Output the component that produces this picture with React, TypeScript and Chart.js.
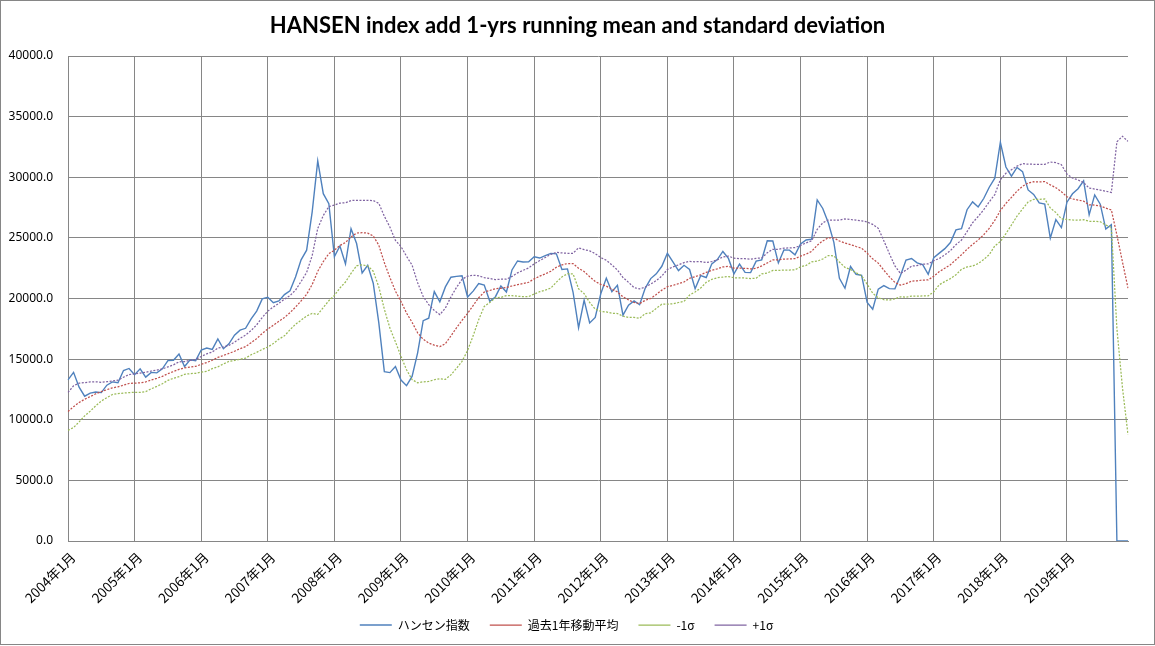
import React, { useEffect, useRef } from 'react';
import { Chart, registerables } from 'chart.js';

Chart.register(...registerables);

const years = [2004, 2005, 2006, 2007, 2008, 2009, 2010, 2011, 2012, 2013, 2014, 2015, 2016, 2017, 2018, 2019];
const months = [1, 2, 3, 4, 5, 6, 7, 8, 9, 10, 11, 12];
const categories = years.flatMap((y) => months.map((m) => `${y}年${m}月`));

const seriesNames = ['ハンセン指数', '過去1年移動平均', '-1σ', '+1σ'];

const hangSeng = [
  13289, 13908, 12682, 11942, 12198, 12286, 12239, 12851, 13120, 13054, 14060, 14230,
  13721, 14196, 13517, 13909, 13868, 14201, 14880, 14903, 15429, 14386, 14937, 14876,
  15753, 15918, 15805, 16661, 15857, 16267, 16971, 17392, 17543, 18324, 18960, 19965,
  20107, 19652, 19801, 20319, 20635, 21773, 23185, 23984, 27143, 31352, 28643, 27812,
  23456, 24332, 22849, 25755, 24533, 22102, 22731, 21261, 18016, 13969, 13888, 14387,
  13278, 12812, 13576, 15521, 18171, 18379, 20573, 19724, 20955, 21753, 21822, 21873,
  20122, 20609, 21239, 21108, 19765, 20129, 21030, 20537, 22358, 23096, 23008, 23035,
  23447, 23338, 23528, 23720, 23684, 22398, 22440, 20535, 17592, 19864, 17989, 18434,
  20390, 21680, 20556, 21094, 18630, 19441, 19796, 19483, 20840, 21642, 22030, 22657,
  23730, 23020, 22300, 22737, 22392, 20803, 21883, 21731, 22860, 23206, 23881, 23306,
  22035, 22837, 22151, 22134, 23082, 23191, 24757, 24742, 22933, 23998, 23987, 23605,
  24507, 24823, 24901, 28133, 27424, 26250, 24636, 21671, 20846, 22640, 21996, 21914,
  19683, 19112, 20777, 21067, 20815, 20794, 21891, 23177, 23297, 22935, 22790, 22001,
  23361, 23741, 24112, 24615, 25661, 25765, 27324, 27970, 27554, 28246, 29177, 29919,
  32887, 30845, 30093, 30808, 30469, 28955, 28583, 27889, 27789, 24980, 26507, 25846,
  27942, 28633, 29051, 29699, 26901, 28543, 27778, 25725, 26092, 0, 0, 0,
];

const runningMean = [
  10680, 11080, 11420, 11690, 11910, 12140, 12320, 12480, 12630, 12710, 12850, 12990,
  13020, 13050, 13120, 13280, 13420, 13580, 13800, 13970, 14160, 14280, 14350, 14400,
  14570, 14720, 14910, 15140, 15300, 15470, 15650, 15860, 16030, 16360, 16690, 17120,
  17480, 17790, 18120, 18430, 18830, 19290, 19800, 20350, 21150, 22240, 23040, 23700,
  23980, 24370, 24620, 25080, 25400, 25430, 25390, 25160, 24400, 22960, 21730, 20610,
  19760, 18800, 18030, 17170, 16640, 16330, 16150, 16030, 16270, 16920, 17580, 18200,
  18770, 19420, 20060, 20530, 20660, 20810, 20840, 20910, 21030, 21140, 21240, 21340,
  21620, 21840, 22030, 22250, 22580, 22770, 22880, 22880, 22490, 22220, 21800, 21410,
  21160, 21020, 20770, 20550, 20130, 19890, 19670, 19580, 19850, 20000, 20330, 20690,
  20970, 21080, 21220, 21360, 21670, 21790, 21960, 22150, 22320, 22450, 22600, 22650,
  22510, 22500, 22490, 22440, 22490, 22690, 22930, 23180, 23190, 23250, 23260, 23290,
  23490, 23660, 23890, 24390, 24750, 25010, 25000, 24740, 24570, 24450, 24290, 24150,
  23740, 23270, 22920, 22340, 21790, 21330, 21100, 21230, 21430, 21460, 21520, 21530,
  21840, 22220, 22500, 22790, 23200, 23610, 24060, 24460, 24820, 25260, 25790, 26450,
  27250, 27840, 28340, 28850, 29250, 29520, 29630, 29620, 29640, 29370, 29140, 28810,
  28390, 28210, 28120, 28030, 27730, 27700, 27630, 27450, 27310, 25230, 23020, 20860,
];

const minusSigma = [
  9120, 9360, 9820, 10320, 10710, 11150, 11540, 11820, 12080, 12160, 12200, 12240,
  12260, 12250, 12320, 12550, 12750, 12970, 13250, 13420, 13550, 13750, 13800, 13830,
  13930, 13990, 14220, 14360, 14600, 14810, 14890, 15000, 15080, 15360, 15560, 15800,
  16000, 16280, 16650, 16920, 17420, 17880, 18210, 18560, 18770, 18690, 19250, 19820,
  20250, 20870, 21360, 22070, 22700, 22770, 22690, 22250, 20960, 19120, 17560, 16430,
  15230, 14120, 13310, 13050, 13130, 13160, 13300, 13380, 13330, 13700, 14240, 14820,
  15710, 16920, 18250, 19340, 19670, 20060, 20090, 20240, 20240, 20180, 20160, 20160,
  20370, 20560, 20690, 20860, 21350, 21780, 22040, 22040, 20800, 20400, 19670, 19130,
  18940, 18890, 18780, 18760, 18540, 18440, 18440, 18370, 18760, 18810, 19190, 19530,
  19540, 19560, 19670, 19760, 20280, 20540, 20860, 21330, 21580, 21710, 21770, 21810,
  21710, 21700, 21690, 21640, 21670, 22030, 22100, 22310, 22310, 22350, 22350, 22370,
  22610, 22730, 23020, 23080, 23260, 23540, 23520, 23010, 22570, 22390, 22120, 21880,
  21180, 20430, 20060, 19900, 19870, 19980, 20140, 20110, 20190, 20190, 20210, 20210,
  20550, 21140, 21400, 21640, 21960, 22410, 22600, 22680, 22880, 23210, 23620, 24340,
  24690, 25350, 26060, 26790, 27390, 27960, 28180, 28170, 28210, 27470, 27090, 26570,
  26520, 26480, 26460, 26500, 26370, 26370, 26330, 26050, 25860, 17520, 12650, 8770,
];

const plusSigma = [
  12250, 12800, 13020, 13060, 13120, 13130, 13090, 13140, 13190, 13260, 13510, 13730,
  13790, 13850, 13920, 14020, 14100, 14190, 14360, 14530, 14780, 14800, 14900, 14970,
  15220, 15440, 15590, 15910, 16000, 16140, 16400, 16710, 16980, 17360, 17830, 18430,
  18960, 19300, 19600, 19940, 20240, 20690, 21400, 22150, 23540, 25780, 26840, 27580,
  27710, 27870, 27890, 28080, 28100, 28090, 28090, 28080, 27850, 26790, 25890, 24790,
  24290, 23480, 22750, 21300, 20160, 19500, 19010, 18670, 19210, 20130, 20910, 21580,
  21840, 21920, 21870, 21720, 21650, 21560, 21590, 21590, 21820, 22110, 22320, 22520,
  22860, 23130, 23380, 23640, 23810, 23760, 23730, 23730, 24180, 24030, 23930, 23700,
  23380, 23150, 22770, 22350, 21730, 21330, 20900, 20790, 20940, 21190, 21480, 21850,
  22390, 22600, 22770, 22960, 23060, 23030, 23050, 22970, 23050, 23190, 23430, 23500,
  23320, 23290, 23280, 23240, 23310, 23350, 23770, 24060, 24060, 24160, 24170, 24200,
  24380, 24590, 24760, 25700, 26240, 26470, 26470, 26470, 26560, 26520, 26460, 26410,
  26310, 26110, 25790, 24770, 23700, 22690, 22060, 22340, 22670, 22720, 22840, 22850,
  23120, 23300, 23600, 23950, 24440, 24820, 25520, 26250, 26760, 27320, 27970, 28570,
  29800, 30330, 30620, 30920, 31120, 31080, 31070, 31070, 31070, 31260, 31200, 31040,
  30260, 29940, 29780, 29560, 29100, 29030, 28940, 28850, 28750, 32930, 33380, 32960,
];

const yMin = 0;
const yMax = 40000;
const yStep = 5000;

const GRID = '#868686';

const frame = {
  id: 'frame',
  beforeDraw(chart: any) {
    const { ctx, width, height } = chart;
    ctx.save();
    ctx.fillStyle = '#ffffff';
    ctx.fillRect(0, 0, width, height);
    ctx.restore();
  },
  afterDraw(chart: any) {
    const { ctx, width, height } = chart;
    ctx.save();
    ctx.strokeStyle = GRID;
    ctx.lineWidth = 1;
    ctx.strokeRect(0.5, 0.5, width - 1, height - 2);
    ctx.restore();
  },
};

const layoutTweaks = {
  id: 'layoutTweaks',
  afterLayout(chart: any) {
    const lg = chart.legend;
    if (lg) {
      lg.left -= 11;
      lg.right -= 11;
    }
    const xs = chart.scales && chart.scales.x;
    if (xs) {
      xs.bottom = chart.height;
    }
  },
};

export default function App() {
  const ref = useRef<HTMLCanvasElement | null>(null);

  useEffect(() => {
    document.body.style.margin = '0';
    const canvas = ref.current;
    if (!canvas) return;
    const chart = new Chart(canvas, {
      type: 'line',
      data: {
        labels: categories,
        datasets: [
          {
            label: seriesNames[0],
            data: hangSeng,
            borderColor: '#4F81BD',
            backgroundColor: '#4F81BD',
            borderWidth: 1.4,
            pointRadius: 0,
            tension: 0,
            order: 4,
          },
          {
            label: seriesNames[1],
            data: runningMean,
            borderColor: '#C0504D',
            backgroundColor: '#C0504D',
            borderWidth: 1.25,
            borderDash: [2, 1.5],
            pointRadius: 0,
            tension: 0,
            order: 3,
          },
          {
            label: seriesNames[2],
            data: minusSigma,
            borderColor: '#9BBB59',
            backgroundColor: '#9BBB59',
            borderWidth: 1.25,
            borderDash: [2, 1.5],
            pointRadius: 0,
            tension: 0,
            order: 2,
          },
          {
            label: seriesNames[3],
            data: plusSigma,
            borderColor: '#8064A2',
            backgroundColor: '#8064A2',
            borderWidth: 1.25,
            borderDash: [2, 1.5],
            pointRadius: 0,
            tension: 0,
            order: 1,
          },
        ],
      },
      options: {
        responsive: false,
        animation: false,
        layout: { padding: { left: 0, right: 0, top: 0, bottom: 5 } },
        plugins: {
          title: {
            display: true,
            text: 'HANSEN index add 1-yrs running mean and standard deviation',
            color: '#000',
            font: { family: 'Lato', size: 22, weight: 'bold' },
            padding: { top: 13, bottom: 16.6 },
          },
          legend: {
            position: 'bottom',
            labels: {
              usePointStyle: true,
              pointStyle: 'line',
              pointStyleWidth: 32,
              padding: 20,
              color: '#000',
              font: { family: "'Noto Sans CJK JP'", size: 12 },
              sort: (a: any, b: any) => a.datasetIndex - b.datasetIndex,
            },
          },
          tooltip: { enabled: false },
        },
        scales: {
          x: {
            type: 'category',
            offset: false,
            grid: {
              color: (c: any) => (c.index % 12 === 0 ? GRID : 'rgba(0,0,0,0)'),
              drawTicks: false,
              lineWidth: 1,
            },
            border: { color: GRID },
            ticks: {
              autoSkip: false,
              minRotation: 45,
              maxRotation: 45,
              padding: 8,
              labelOffset: 5,
              color: '#000',
              font: { family: "'Noto Sans CJK JP'", size: 13.5 },
              callback: (_v: any, i: number) => (i % 12 === 0 ? categories[i] : ''),
            },
            afterFit: (s: any) => {
              s.height = 58;
            },
          },
          y: {
            type: 'linear',
            position: 'left',
            min: yMin,
            max: yMax,
            grid: { color: GRID, drawTicks: false, lineWidth: 1 },
            border: { color: GRID },
            ticks: {
              stepSize: yStep,
              padding: 15,
              color: '#000',
              font: { family: "'Noto Sans'", size: 12 },
              callback: (v: any) => Number(v).toFixed(1),
            },
            afterFit: (s: any) => {
              s.width = 68;
            },
          },
          spacer: {
            type: 'linear',
            position: 'right',
            display: true,
            grid: { display: false },
            border: { display: false },
            ticks: { display: false },
            afterFit: (s: any) => {
              s.width = 27;
            },
          },
        },
      } as any,
      plugins: [frame, layoutTweaks],
    });
    return () => chart.destroy();
  }, []);

  return (
    <div style={{ width: 1155, height: 646 }}>
      <canvas ref={ref} width={1155} height={646} />
    </div>
  );
}
